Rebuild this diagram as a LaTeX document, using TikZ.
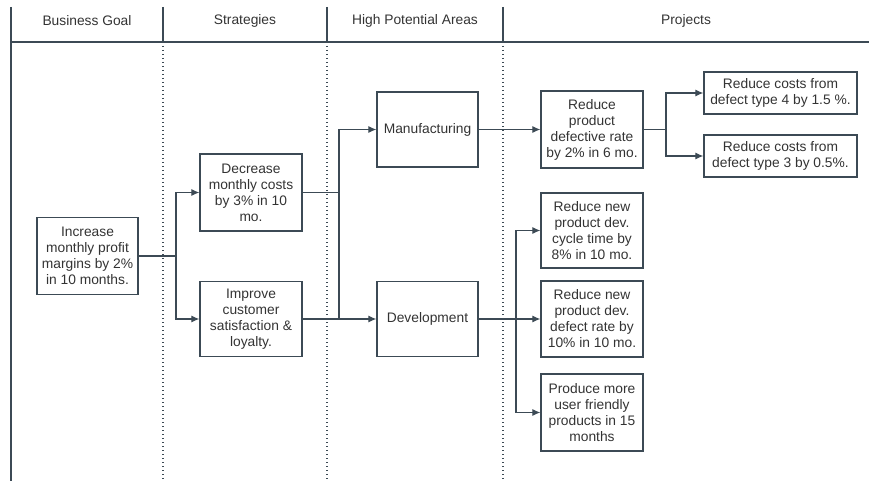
\documentclass[tikz,border=0pt]{standalone}
\usepackage{fontspec}
\setmainfont{Liberation Sans}
\usetikzlibrary{arrows.meta}

\definecolor{linecol}{HTML}{3C4A55}
\definecolor{textcol}{HTML}{333333}

\tikzset{
  box/.style={draw=linecol,line width=1.3pt,text=textcol,align=center,
    inner sep=1pt,font=\fontsize{13.8}{16}\selectfont},
  head/.style={text=textcol,font=\fontsize{13.8}{16}\selectfont},
  arr/.style={draw=linecol,line width=1.1pt,-{Latex[length=8pt,width=7pt]}},
  conn/.style={draw=linecol,line width=1.1pt},
  lane/.style={draw=linecol,line width=1.1pt,dash pattern=on 1.3pt off 2.7pt}
}

\begin{document}
\begin{tikzpicture}[x=1pt,y=-1pt]
         \useasboundingbox (0,0) rectangle (869,481) ;
         % header and lanes
         \draw[conn] (11,7) -- (11,481) ;
         \draw[conn] (11,42) -- (869,42) ;
         \draw[conn] (163,7) -- (163,42) ;
         \draw[conn] (327,7) -- (327,42) ;
         \draw[conn] (503,7) -- (503,42) ;
         \draw[lane] (163,42) -- (163,481) ;
         \draw[lane] (327,42) -- (327,481) ;
         \draw[lane] (503,42) -- (503,481) ;
         \node[head] (hgoal) at (87,21) {Business Goal} ;
         \node[head] (hstrat) at (245,21) {Strategies} ;
         \node[head] (harea) at (415,21) {High Potential Areas} ;
         \node[head] (hproj) at (686,21) {Projects} ;
         % boxes
         \node[box,minimum width=101pt,minimum height=77pt] (goal) at (87.5,256)
         {Increase\\monthly profit\\margins by 2\%\\in 10 months.} ;
         \node[box,minimum width=102pt,minimum height=77pt] (dec) at (251,192.5)
         {Decrease\\monthly costs\\by 3\% in 10\\mo.} ;
         \node[box,minimum width=102pt,minimum height=75pt] (imp) at (251,319)
         {Improve\\customer\\satisfaction \&\\loyalty.} ;
         \node[box,minimum width=101pt,minimum height=75pt] (mfg) at (427.5,129.5)
         {Manufacturing} ;
         \node[box,minimum width=101pt,minimum height=75pt] (dev) at (427.5,319)
         {Development} ;
         \node[box,minimum width=102pt,minimum height=77pt] (rpd) at (592,129.5)
         {Reduce\\product\\defective rate\\by 2\% in 6 mo.} ;
         \node[box,minimum width=153pt,minimum height=42pt] (rc4) at (780.5,93)
         {Reduce costs from\\defect type 4 by 1.5 \%.} ;
         \node[box,minimum width=153pt,minimum height=42pt] (rc3) at (780.5,156)
         {Reduce costs from\\defect type 3 by 0.5\%.} ;
         \node[box,minimum width=102pt,minimum height=75pt] (cyc) at (592,230.5)
         {Reduce new\\product dev.\\cycle time by\\8\% in 10 mo.} ;
         \node[box,minimum width=102pt,minimum height=76pt] (dfr) at (592,319)
         {Reduce new\\product dev.\\defect rate by\\10\% in 10 mo.} ;
         \node[box,minimum width=102pt,minimum height=77pt] (usr) at (592,412.5)
         {Produce more\\user friendly\\products in 15\\months} ;
         % junctions
         \coordinate (j1) at (176,256) ;
         \coordinate (j2) at (339,319) ;
         \coordinate (j3) at (666,129.5) ;
         \coordinate (j4) at (516,319) ;
         % connectors
         \draw[conn] (goal.east) -- (j1) ;
         \draw[arr] (j1) |- (dec.west) ;
         \draw[arr] (j1) |- (imp.west) ;
         \draw[conn] (dec.east) -- (dec.east -| j2) ;
         \draw[arr] (j2) |- (mfg.west) ;
         \draw[arr] (imp.east) -- (dev.west) ;
         \draw[arr] (mfg.east) -- (rpd.west) ;
         \draw[conn] (rpd.east) -- (j3) ;
         \draw[arr] (j3) |- (rc4.west) ;
         \draw[arr] (j3) |- (rc3.west) ;
         \draw[arr] (dev.east) -- (dfr.west) ;
         \draw[arr] (j4) |- (cyc.west) ;
         \draw[arr] (j4) |- (usr.west) ;
       \end{tikzpicture}
\end{document}
